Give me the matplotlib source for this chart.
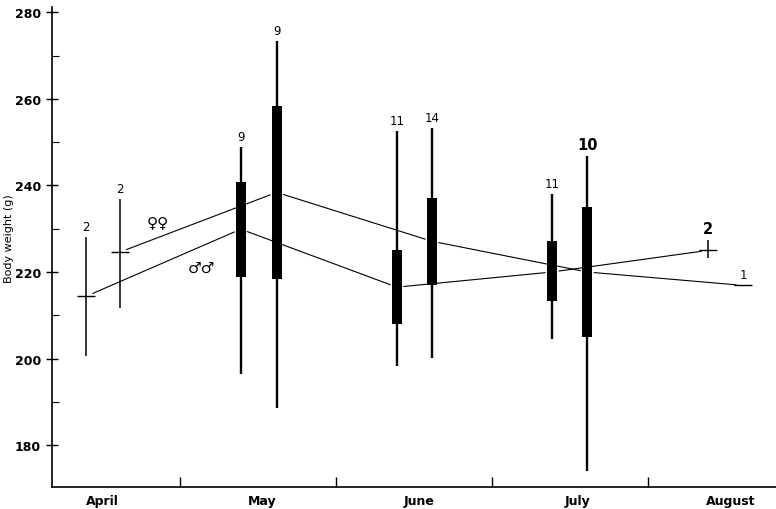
import numpy as np
import matplotlib.pyplot as plt
from matplotlib.ticker import MultipleLocator, FixedLocator

nan = np.nan

months = ['April', 'May', 'June', 'July', 'August']
month_centres = [0.5, 1.53, 2.53, 3.55, 4.53]

# sampling time, in months from 1 April
male_t = [0.40, 1.39, 2.39, 3.385, 4.385]
female_t = [0.615, 1.62, 2.615, 3.61, 4.61]

# males
male_n = [2, 9, 11, 11, 2]
male_mean = [214.4, 229.9, 216.5, 220.0, 225.0]
male_min = [200.6, 196.4, 198.2, 204.5, 223.2]
male_max = [228.0, 248.8, 252.5, 238.0, 227.3]
male_sd_lo = [nan, 218.8, 207.9, 213.3, nan]
male_sd_hi = [nan, 240.7, 225.0, 227.1, nan]

# females
female_n = [2, 9, 14, 10, 1]
female_mean = [224.6, 238.4, 227.1, 220.0, 216.9]
female_min = [211.6, 188.5, 200.1, 174.0, nan]
female_max = [236.8, 273.3, 253.2, 246.7, nan]
female_sd_lo = [nan, 218.3, 217.0, 205.0, nan]
female_sd_hi = [nan, 258.3, 237.0, 235.0, nan]

fig = plt.figure(figsize=(7.76, 5.10), dpi=100)
ax = fig.add_axes([0.067, 0.043, 0.933, 0.941])


def draw_group(t, n, mean, lo, hi, sdlo, sdhi):
    for i in range(len(t)):
        if not np.isnan(lo[i]):
            lw = 1.1 if n[i] <= 2 else 1.7
            ax.vlines(t[i], lo[i], hi[i], color='black', lw=lw)
        if not np.isnan(sdlo[i]):
            ax.bar(t[i], sdhi[i] - sdlo[i], bottom=sdlo[i], width=0.066,
                   color='black', edgecolor='none')
        else:
            ax.plot(t[i], mean[i], marker='_', ms=13, mew=1.0, color='black')
        top = hi[i] if not np.isnan(hi[i]) else mean[i]
        big = n[i] == 10 or (n[i] == 2 and i == 4)
        ax.annotate(str(n[i]), (t[i], top), xytext=(0, 3),
                    textcoords='offset points', ha='center', va='bottom',
                    fontsize=10.5 if big else 8.5,
                    fontweight='bold' if big else 'normal')
    # connecting line of means, broken near each sample
    for i in range(len(t) - 1):
        ax.annotate('', xy=(t[i + 1], mean[i + 1]), xytext=(t[i], mean[i]),
                    arrowprops=dict(arrowstyle='-', lw=0.8, color='black',
                                    shrinkA=5, shrinkB=5))


draw_group(male_t, male_n, male_mean, male_min, male_max, male_sd_lo, male_sd_hi)
draw_group(female_t, female_n, female_mean, female_min, female_max,
           female_sd_lo, female_sd_hi)

ax.text(0.86, 231.7, '♀♀', fontsize=11, ha='center', va='center')
ax.text(1.14, 221.1, '♂♂', fontsize=11, ha='center', va='center')

ax.set_xlim(0.18, 4.82)
ax.set_ylim(170.3, 281.2)

ax.spines['top'].set_visible(False)
ax.spines['right'].set_visible(False)
ax.spines['left'].set_linewidth(1.2)
ax.spines['bottom'].set_linewidth(1.2)

ax.yaxis.set_major_locator(MultipleLocator(20))
ax.yaxis.set_minor_locator(MultipleLocator(10))
ax.tick_params(axis='y', which='major', direction='inout', length=9, width=1,
               labelsize=9)
ax.tick_params(axis='y', which='minor', direction='in', length=5, width=0.8)
for lab in ax.get_yticklabels():
    lab.set_fontweight('bold')

ax.xaxis.set_major_locator(FixedLocator(month_centres))
ax.set_xticklabels(months, fontweight='bold', fontsize=9)
ax.xaxis.set_minor_locator(FixedLocator([1, 2, 3, 4]))
ax.tick_params(axis='x', which='major', length=0, pad=5)
ax.tick_params(axis='x', which='minor', direction='in', length=7, width=1)

ax.set_ylabel('Body weight (g)', fontsize=8, labelpad=8)
ax.yaxis.set_label_coords(-0.053, 0.52)

fig.savefig('out.png', dpi=100)
